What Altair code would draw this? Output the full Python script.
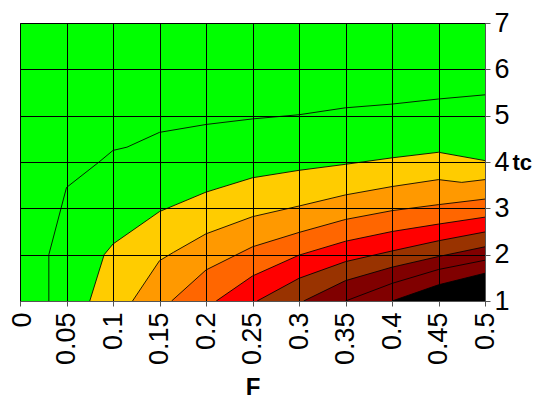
import altair as alt
import pandas as pd

# Axis ticks
F_ticks = [0, 0.05, 0.1, 0.15, 0.2, 0.25, 0.3, 0.35, 0.4, 0.45, 0.5]
tc_ticks = [1, 2, 3, 4, 5, 6, 7]

# Contour boundaries (F, tc)
A_F = [0.031, 0.031, 0.05, 0.085, 0.1, 0.115, 0.15, 0.2, 0.25, 0.3, 0.35, 0.4, 0.45, 0.5]
A_tc = [1.0, 2.0, 3.45, 4.0, 4.25, 4.32, 4.64, 4.81, 4.93, 5.02, 5.17, 5.25, 5.36, 5.45]

B_F = [0.075, 0.0905, 0.1, 0.15, 0.2, 0.25, 0.3, 0.35, 0.4, 0.45, 0.5]
B_tc = [1.0, 2.0, 2.23, 2.93, 3.35, 3.66, 3.82, 3.95, 4.09, 4.21, 4.03]

C_F = [0.121, 0.15, 0.165, 0.2, 0.25, 0.3, 0.35, 0.4, 0.45, 0.475, 0.5]
C_tc = [1.0, 1.87, 2.05, 2.45, 2.82, 3.05, 3.29, 3.47, 3.62, 3.56, 3.62]

D_F = [0.163, 0.2, 0.25, 0.3, 0.35, 0.4, 0.45, 0.5]
D_tc = [1.0, 1.67, 2.17, 2.48, 2.76, 2.95, 3.08, 3.20]

E_F = [0.211, 0.25, 0.3, 0.35, 0.4, 0.45, 0.5]
E_tc = [1.0, 1.54, 1.99, 2.29, 2.50, 2.66, 2.81]

G_F = [0.255, 0.3, 0.35, 0.4, 0.45, 0.5]
G_tc = [1.0, 1.49, 1.85, 2.08, 2.30, 2.49]

H_F = [0.305, 0.35, 0.4, 0.45, 0.5]
H_tc = [1.0, 1.44, 1.73, 1.96, 2.17]

I_F = [0.35, 0.4, 0.45, 0.5]
I_tc = [1.0, 1.38, 1.68, 1.88]

J_F = [0.4, 0.45, 0.5]
J_tc = [1.0, 1.35, 1.60]

bands = [
    ("B", B_F, B_tc, "#FFCC00"),
    ("C", C_F, C_tc, "#FF9900"),
    ("D", D_F, D_tc, "#FF6600"),
    ("E", E_F, E_tc, "#FF0000"),
    ("G", G_F, G_tc, "#993300"),
    ("H", H_F, H_tc, "#800000"),
    ("I", I_F, I_tc, "#800000"),
    ("J", J_F, J_tc, "#000000"),
]

TC_MIN = tc_ticks[0]
FONT = "Liberation Sans"

x_scale = alt.Scale(domain=[0, 0.5], nice=False, zero=False)
y_scale = alt.Scale(domain=[1, 7], nice=False, zero=False)

x_axis = alt.Axis(
    values=F_ticks, format=".2~f", labelAngle=-90, labelFontSize=27,
    labelFont=FONT, labelColor="black", labelFlush=False, labelOverlap=False,
    labelOffset={"condition": {"test": "datum.value == 0", "value": 2}, "value": 0},
    labelPadding=6, title="F", titleFont=FONT, titleFontSize=24,
    titleFontWeight="bold", titleColor="black", titleBaseline="alphabetic",
    titleY=93, grid=True, gridColor="black", gridWidth=1, gridOpacity=1,
    domainColor="#555555", tickColor="#555555", tickSize=5, zindex=1,
)
y_axis = alt.Axis(
    orient="right", values=tc_ticks, labelFontSize=27, labelFont=FONT,
    labelColor="black", labelFlush=False, labelOverlap=False, labelPadding=4,
    title="tc", titleFont=FONT, titleFontSize=22, titleFontWeight="bold",
    titleColor="black", titleAngle=0, titleAlign="left", titleBaseline="middle",
    titleX=27, titleY=139, grid=True, gridColor="black", gridWidth=1,
    gridOpacity=1, domainColor="#555555", tickColor="#555555", tickSize=5,
    zindex=1,
)

layers = []
for name, fs, ts, col in bands:
    df = pd.DataFrame({"F": fs, "tc": ts, "base": [TC_MIN] * len(fs)})
    area = alt.Chart(df).mark_area(color=col, opacity=1, interpolate="linear").encode(
        x=alt.X("F:Q", scale=x_scale, axis=x_axis),
        y=alt.Y("tc:Q", scale=y_scale, axis=y_axis, stack=None),
        y2=alt.Y2("base:Q"),
    )
    layers.append(area)

for fs, ts in [(A_F, A_tc)] + [(b[1], b[2]) for b in bands]:
    df = pd.DataFrame({"F": fs, "tc": ts, "idx": list(range(len(fs)))})
    line = alt.Chart(df).mark_line(color="black", strokeWidth=1, opacity=0.85).encode(
        x=alt.X("F:Q", scale=x_scale, axis=x_axis),
        y=alt.Y("tc:Q", scale=y_scale, axis=y_axis),
        order=alt.Order("idx:Q"),
    )
    layers.append(line)

chart = alt.layer(*layers).properties(
    width=465, height=278,
    autosize=alt.AutoSizeParams(type="none"),
    padding={"left": 12, "top": 15, "right": 47, "bottom": 98},
).configure_view(fill="#00FF00", stroke="#555555", strokeWidth=1)

chart.save("out.html", embed_options={"renderer": "svg", "actions": False})
